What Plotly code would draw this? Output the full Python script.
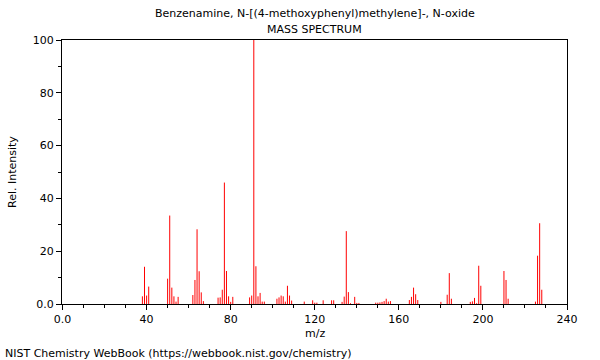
import plotly.graph_objects as go

mz = [38, 39, 40, 41, 50, 51, 52, 53, 54, 55, 62, 63, 64, 65, 66, 67,
      74, 75, 76, 77, 78, 79, 80, 81, 89, 90, 91, 92, 93, 94, 95, 96,
      102, 103, 104, 105, 106, 107, 108, 109, 115, 119, 120, 121, 124,
      128, 129, 133, 134, 135, 136, 137, 139, 140, 141, 149, 150, 151,
      152, 153, 154, 155, 156, 165, 166, 167, 168, 169, 180, 183, 184,
      185, 194, 195, 196, 197, 198, 199, 210, 211, 212, 225, 226, 227, 228]
intensity = [2.9, 14.1, 3.2, 6.6, 9.6, 33.5, 6.2, 2.9, 0.9, 2.7, 3.4, 9.1,
             28.3, 12.4, 4.4, 1.1, 2.4, 2.5, 5.4, 46.0, 12.5, 2.9, 0.8, 2.7,
             2.5, 3.2, 100.0, 14.3, 2.9, 4.2, 0.9, 0.9, 2.0, 2.5, 3.2, 2.9,
             0.9, 6.9, 3.2, 1.3, 0.9, 1.4, 0.5, 0.5, 1.4, 1.4, 1.4, 0.8,
             2.8, 27.6, 4.5, 0.3, 2.7, 0.4, 0.4, 0.5, 0.5, 0.6, 0.8, 1.1,
             2.0, 0.9, 1.1, 1.5, 2.7, 6.2, 3.7, 1.5, 0.8, 3.5, 11.7, 2.0,
             0.8, 1.0, 2.3, 0.3, 14.5, 6.9, 12.5, 9.1, 2.0, 0.9, 18.3,
             30.6, 5.4]

x_tickvals = [0, 40, 80, 120, 160, 200, 240]
x_ticktext = ["0.0", "40", "80", "120", "160", "200", "240"]
y_tickvals = [0, 20, 40, 60, 80, 100]
y_ticktext = ["0.0", "20", "40", "60", "80", "100"]

title_main = "Benzenamine, N-[(4-methoxyphenyl)methylene]-, N-oxide"
title_sub = "MASS SPECTRUM"
footer = "NIST Chemistry WebBook (https://webbook.nist.gov/chemistry)"

# stick spectrum: one vertical segment per peak, separated by gaps
xs, ys = [], []
for m, v in zip(mz, intensity):
    xs += [m, m, None]
    ys += [0, v, None]

FONT = "DejaVu Sans, sans-serif"

fig = go.Figure()
fig.add_trace(go.Scatter(x=xs, y=ys, mode="lines",
                         line=dict(color="#ff0000", width=1),
                         hoverinfo="skip", showlegend=False))

axis_common = dict(showline=True, linecolor="#000000", linewidth=1,
                   mirror=True, showgrid=False, zeroline=False,
                   showspikes=False,
                   ticks="outside", ticklen=5, tickcolor="#000000",
                   tickfont=dict(family=FONT, size=11, color="#000000"))

fig.update_xaxes(range=[-0.25, 240.0], tickmode="array", tickvals=x_tickvals,
                 ticktext=x_ticktext,
                 minor=dict(dtick=10, ticks="outside", ticklen=3,
                            tickcolor="#000000", showgrid=False),
                 **axis_common)
fig.update_yaxes(range=[0, 100], tickmode="array", tickvals=y_tickvals,
                 ticktext=y_ticktext,
                 minor=dict(dtick=10, ticks="outside", ticklen=3,
                            tickcolor="#000000", showgrid=False),
                 **axis_common)

ann_font = dict(family=FONT, size=11, color="#000000")
fig.update_layout(
    width=600, height=360,
    margin=dict(l=62, r=33, t=40, b=56),
    paper_bgcolor="#ffffff", plot_bgcolor="#ffffff",
    hovermode=False,
    annotations=[
        dict(text=title_main, xref="paper", yref="paper", x=0.5, y=1.102,
             xanchor="center", yanchor="middle", showarrow=False, font=ann_font),
        dict(text=title_sub, xref="paper", yref="paper", x=0.5, y=1.038,
             xanchor="center", yanchor="middle", showarrow=False, font=ann_font),
        dict(text="m/z", xref="paper", yref="paper", x=0.5, y=-0.11,
             xanchor="center", yanchor="middle", showarrow=False, font=ann_font),
        dict(text="Rel. Intensity", xref="paper", yref="paper", x=-0.099, y=0.5,
             xanchor="center", yanchor="middle", textangle=-90,
             showarrow=False, font=ann_font),
        dict(text=footer, xref="paper", yref="paper", x=-0.1168, y=-0.186,
             xanchor="left", yanchor="middle", showarrow=False, font=ann_font),
    ],
)

fig.write_html("out.html",
               config={"staticPlot": True, "displayModeBar": False},
               post_script="document.body.style.margin='0';document.body.style.padding='0';")
